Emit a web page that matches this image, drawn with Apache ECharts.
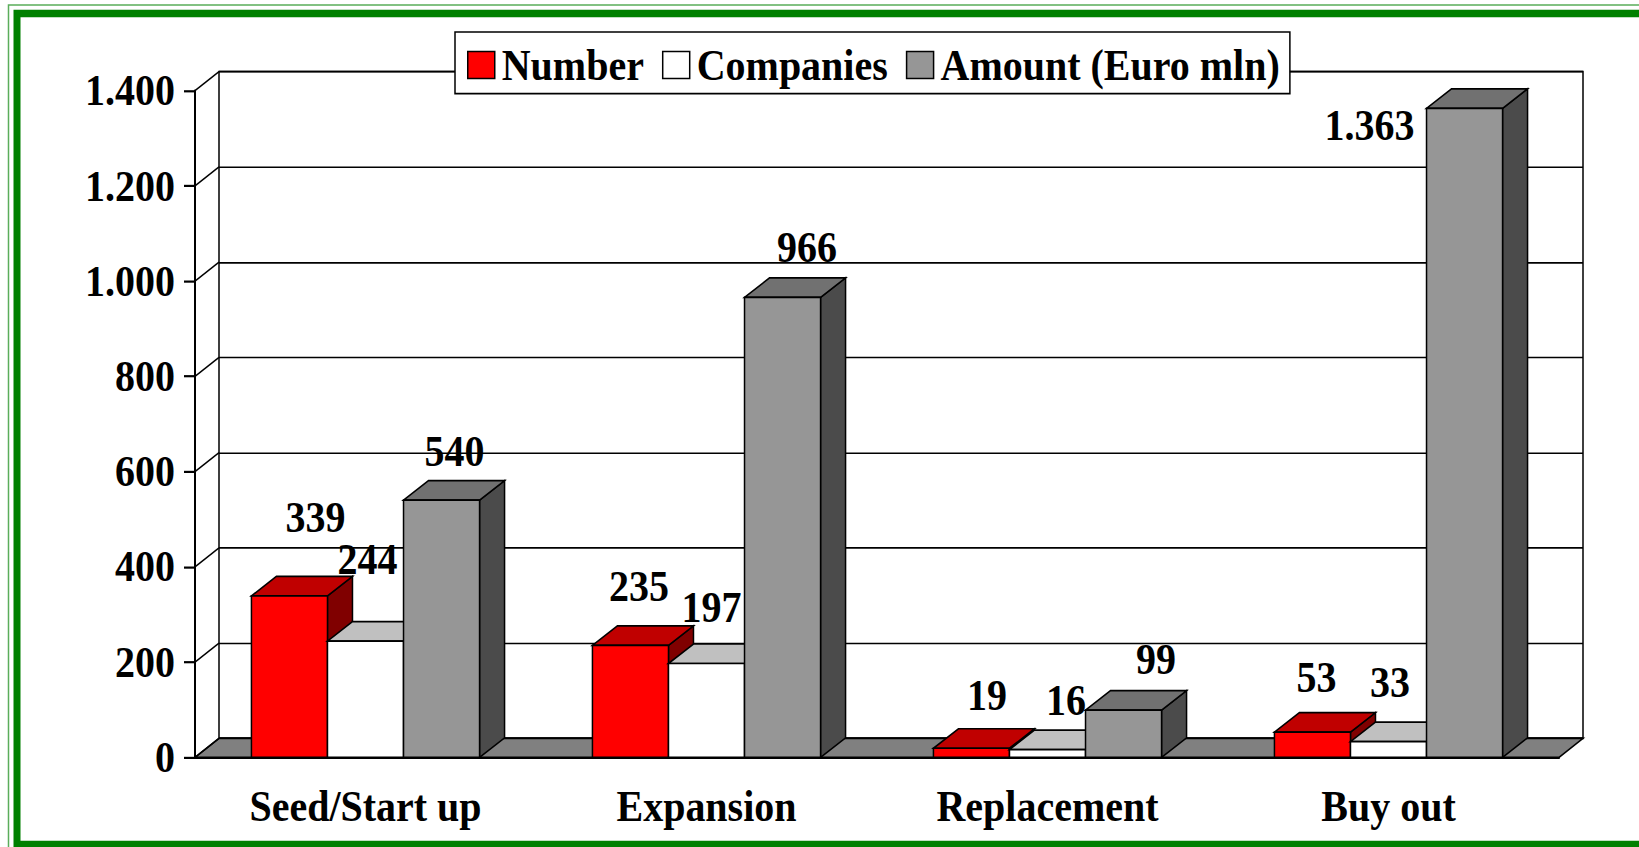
<!DOCTYPE html>
<html>
<head>
<meta charset="utf-8">
<title>Private equity by stage</title>
<script src="https://cdn.jsdelivr.net/npm/echarts@6/dist/echarts.min.js"></script>
<style>
  html, body { margin: 0; padding: 0; background: #fff; width: 1639px; height: 847px; }
  /* the original picture is stretched a bit vertically, so the chart is drawn
     shorter and scaled up */
  #chart { width: 1639px; height: 770px; transform: scaleY(1.1); transform-origin: 0 0; }
</style>
</head>
<body>
<div id="chart"></div>
<script>
// data
const categories = ['Seed/Start up', 'Expansion', 'Replacement', 'Buy out'];
const numberVals = [339, 235, 19, 53];
const companiesVals = [244, 197, 16, 33];
const amountVals = [540, 966, 99, 1363];
const yTicks = [0, 200, 400, 600, 800, 1000, 1200, 1400];

const SY = 1.1;
const py = v => v / SY; // picture pixels -> chart pixels (vertical)

// layout of the fake 3d look
const FONT = '"Liberation Serif", "Times New Roman", serif';
const WALL_DX = 24, WALL_DY = py(-19);
const BAR_DX = 25, BAR_DY = py(-19.5);
const BAR_FRAC = 0.223;
// label nudges from the back-top centre of each bar (Excel moved them around)
const labelNudge = [
  [[13.5, -59], [-4, -40], [3, -33], [-8.5, -35.5]],
  [[-10.5, -62], [-7.5, -36.5], [6, -30], [-11, -39.5]],
  [[0.5, -29], [12, -30.5], [20, -31], [-107.5, 36.5]]
];

const faces = [
  { front: '#ff0000', top: '#c00000', side: '#800000' },
  { front: '#ffffff', top: '#c0c0c0', side: '#808080' },
  { front: '#969696', top: '#717171', side: '#4b4b4b' }
];

const fmt = v => String(v).replace(/\B(?=(\d{3})+(?!\d))/g, '.');

const chart = echarts.init(document.getElementById('chart'), null, { renderer: 'svg' });

function poly(points, fill) {
  return {
    type: 'polygon',
    shape: { points: points },
    style: { fill: fill, stroke: '#000', lineWidth: 1.5 }
  };
}

function barRenderer(si) {
  return function (params, api) {
    const cat = api.value(0);
    const v = api.value(1);
    const base = api.coord([cat, 0]);
    const top = api.coord([cat, v]);
    const band = api.size([1, 0])[0];
    const w = band * BAR_FRAC;
    const x0 = base[0] - 1.5 * w + si * w;
    const x1 = x0 + w;
    const y0 = base[1];
    const y1 = top[1];
    const f = faces[si];
    const nudge = labelNudge[si][cat];
    const lx = (x0 + x1) / 2 + BAR_DX / 2 + nudge[0];
    const ly = y1 + BAR_DY + py(nudge[1]);
    return {
      type: 'group',
      children: [
        poly([[x1, y1], [x1 + BAR_DX, y1 + BAR_DY], [x1 + BAR_DX, y0 + BAR_DY], [x1, y0]], f.side),
        poly([[x0, y1], [x0 + BAR_DX, y1 + BAR_DY], [x1 + BAR_DX, y1 + BAR_DY], [x1, y1]], f.top),
        poly([[x0, y1], [x1, y1], [x1, y0], [x0, y0]], f.front),
        {
          type: 'text',
          z2: 100,
          style: {
            text: fmt(v),
            x: lx,
            y: ly,
            align: 'center',
            verticalAlign: 'middle',
            fill: '#000',
            fontFamily: FONT,
            fontWeight: 'bold',
            fontSize: 40
          }
        }
      ]
    };
  };
}

// floor and the left side wall
function frameRenderer(params, api) {
  const cs = params.coordSys;
  const left = cs.x, right = cs.x + cs.width;
  const y0 = api.coord([0, 0])[1];
  const children = [
    poly([[left, y0], [right, y0], [right + WALL_DX, y0 + WALL_DY], [left + WALL_DX, y0 + WALL_DY]], '#808080')
  ];
  yTicks.forEach(t => {
    const y = api.coord([0, t])[1];
    children.push({
      type: 'line',
      shape: { x1: left, y1: y, x2: left + WALL_DX, y2: y + WALL_DY },
      style: { stroke: '#000', lineWidth: 1.5 }
    });
  });
  return { type: 'group', children: children };
}

const labelFont = { color: '#000', fontFamily: FONT, fontWeight: 'bold', fontSize: 40 };

const option = {
  backgroundColor: '#fff',
  animation: false,
  graphic: [
    {
      type: 'rect',
      shape: { x: 8.5, y: py(5), width: 1700, height: 900 },
      style: { fill: 'none', stroke: '#5aad5a', lineWidth: 1.5 },
      z: 10
    },
    {
      type: 'rect',
      shape: { x: 17, y: py(13.5), width: 1700, height: py(831) },
      style: { fill: 'none', stroke: '#008000', lineWidth: 7 },
      z: 10
    }
  ],
  legend: {
    left: 455,
    top: py(32),
    padding: [10, 10, 6, 12],
    itemWidth: 27,
    itemHeight: py(27),
    itemGap: 18,
    icon: 'rect',
    backgroundColor: '#fff',
    borderColor: '#000',
    borderWidth: 1.5,
    borderRadius: 0,
    itemStyle: { borderColor: '#000', borderWidth: 1.5 },
    textStyle: Object.assign({ padding: [0, 0, 0, 2] }, labelFont),
    data: ['Number', 'Companies', 'Amount (Euro mln)'],
    selectedMode: false
  },
  grid: [
    { left: 195, right: 80, top: py(90.7), bottom: py(89.7) },
    {
      left: 219, right: 56, top: py(71.7), bottom: py(108.7),
      show: true, borderColor: '#000', borderWidth: 1.5, backgroundColor: 'transparent'
    }
  ],
  xAxis: [
    {
      type: 'category',
      gridIndex: 0,
      data: categories,
      axisLine: { lineStyle: { color: '#000', width: 2 } },
      axisTick: { length: py(11), lineStyle: { color: '#000', width: 2 } },
      axisLabel: Object.assign({ margin: 25, interval: 0 }, labelFont),
      splitLine: { show: false }
    },
    {
      type: 'category',
      gridIndex: 1,
      data: categories,
      show: false
    }
  ],
  yAxis: [
    {
      type: 'value',
      gridIndex: 0,
      min: 0,
      max: 1400,
      interval: 200,
      axisLine: { show: true, lineStyle: { color: '#000', width: 2 } },
      axisTick: { show: true, length: 11, lineStyle: { color: '#000', width: 2 } },
      axisLabel: Object.assign({ margin: 20, formatter: fmt, padding: [6, 0, 0, 0] }, labelFont),
      splitLine: { show: false }
    },
    {
      type: 'value',
      gridIndex: 1,
      min: 0,
      max: 1400,
      interval: 200,
      axisLine: { show: false },
      axisTick: { show: false },
      axisLabel: { show: false },
      splitLine: { show: true, lineStyle: { color: '#000', width: 1.5 } }
    }
  ],
  series: [
    {
      name: 'frame',
      type: 'custom',
      z: 1,
      silent: true,
      renderItem: frameRenderer,
      data: [[0, 0]]
    },
    {
      name: 'Number',
      type: 'custom',
      z: 2,
      itemStyle: { color: faces[0].front, borderColor: '#000', borderWidth: 1.5 },
      renderItem: barRenderer(0),
      encode: { x: 0, y: 1 },
      data: numberVals.map((v, i) => [i, v])
    },
    {
      name: 'Companies',
      type: 'custom',
      z: 2,
      itemStyle: { color: faces[1].front, borderColor: '#000', borderWidth: 1.5 },
      renderItem: barRenderer(1),
      encode: { x: 0, y: 1 },
      data: companiesVals.map((v, i) => [i, v])
    },
    {
      name: 'Amount (Euro mln)',
      type: 'custom',
      z: 2,
      itemStyle: { color: faces[2].front, borderColor: '#000', borderWidth: 1.5 },
      renderItem: barRenderer(2),
      encode: { x: 0, y: 1 },
      data: amountVals.map((v, i) => [i, v])
    }
  ]
};

chart.setOption(option);
window.addEventListener('resize', () => chart.resize());
</script>
</body>
</html>
